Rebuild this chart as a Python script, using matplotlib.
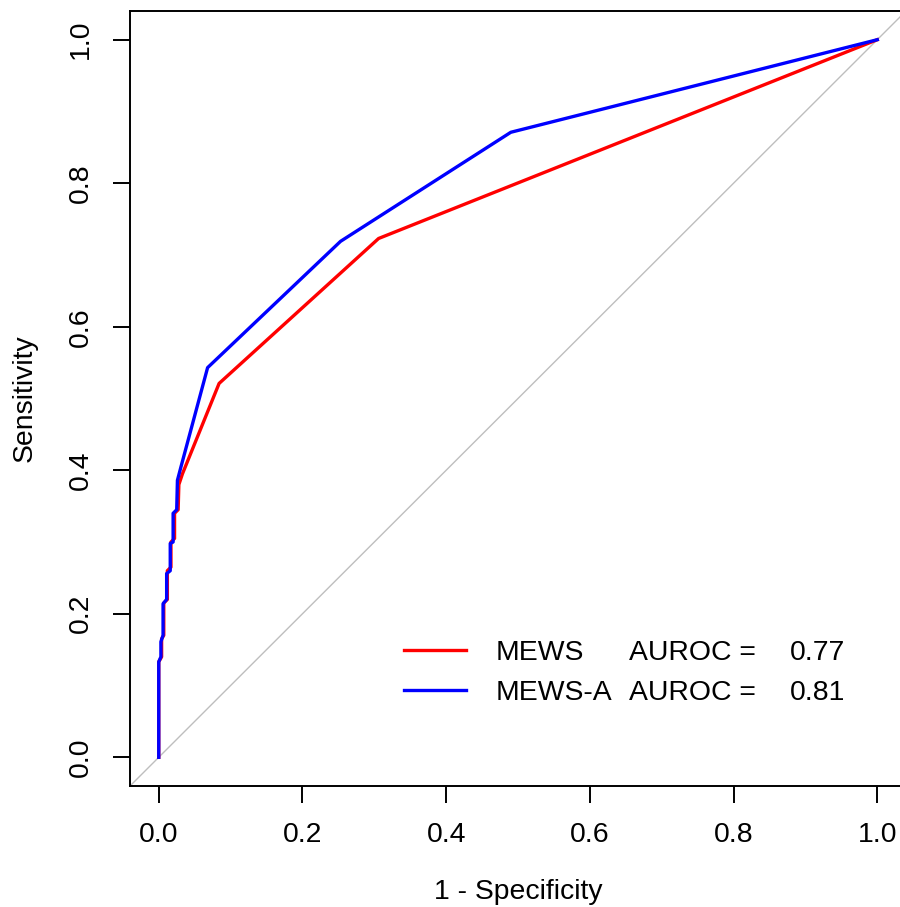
import matplotlib
matplotlib.use("Agg")
import matplotlib.pyplot as plt

plt.rcParams['font.family'] = ['Liberation Sans', 'DejaVu Sans']

# ROC curve points (1 - specificity, sensitivity)
mews_fpr = [0.0, 0.0, 0.004, 0.004, 0.007, 0.007, 0.012, 0.012, 0.017, 0.017,
            0.022, 0.022, 0.027, 0.028, 0.033, 0.084, 0.306, 1.0]
mews_tpr = [0.0, 0.133, 0.14, 0.165, 0.17, 0.215, 0.22, 0.26, 0.265, 0.30,
            0.305, 0.34, 0.345, 0.38, 0.395, 0.521, 0.723, 1.0]
mewsa_fpr = [0.0, 0.0, 0.003, 0.003, 0.006, 0.006, 0.011, 0.011, 0.016, 0.016,
             0.020, 0.020, 0.025, 0.026, 0.031, 0.068, 0.253, 0.49, 1.0]
mewsa_tpr = [0.0, 0.133, 0.14, 0.161, 0.17, 0.214, 0.22, 0.256, 0.26, 0.298,
             0.30, 0.340, 0.345, 0.386, 0.405, 0.543, 0.719, 0.871, 1.0]

series_names = ["MEWS", "MEWS-A"]
auroc_values = ["0.77", "0.81"]
series_colors = ["#FF0000", "#0000FF"]
ticks = [0.0, 0.2, 0.4, 0.6, 0.8, 1.0]
tick_labels = ["0.0", "0.2", "0.4", "0.6", "0.8", "1.0"]

FS = 20.4

fig = plt.figure(figsize=(9.0, 9.07), dpi=100)
ax = fig.add_axes([130/900, (907-786)/907, 776/900, 775/907])

ax.axline((0, 0), (1, 1), color="#BEBEBE", lw=1.0, zorder=1)
l1, = ax.plot(mews_fpr, mews_tpr, color=series_colors[0], lw=2.4, zorder=2,
              solid_joinstyle="round")
l2, = ax.plot(mewsa_fpr, mewsa_tpr, color=series_colors[1], lw=2.4, zorder=3,
              solid_joinstyle="round")

ax.set_xlim(-0.04, 1.04)
ax.set_ylim(-0.04, 1.04)
ax.set_xticks(ticks)
ax.set_xticklabels(tick_labels)
ax.set_yticks(ticks)
ax.set_yticklabels(tick_labels, rotation=90, va="center")
ax.tick_params(axis="both", labelsize=FS, length=12, width=1.4, direction="out")
ax.tick_params(axis="x", pad=14)
ax.tick_params(axis="y", pad=14)
for s in ax.spines.values():
    s.set_linewidth(1.4)

ax.set_xlabel("1 - Specificity", fontsize=FS, labelpad=22)
ax.set_ylabel("Sensitivity", fontsize=FS, labelpad=22)

leg = ax.legend([l1, l2], series_names, loc="center left",
                bbox_to_anchor=(0.341, 0.118), bbox_transform=ax.transData,
                frameon=False, fontsize=FS, handlelength=2.19,
                handletextpad=1.06, labelspacing=0.5, borderpad=0,
                borderaxespad=0)
for h in leg.get_lines():
    h.set_linewidth(2.4)

fig.canvas.draw()
for txt, val in zip(leg.get_texts(), auroc_values):
    ax.annotate("AUROC =", xy=(0.654, 0), xycoords=(ax.transData, txt),
                va="bottom", ha="left", fontsize=FS)
    ax.annotate(val, xy=(0.879, 0), xycoords=(ax.transData, txt),
                va="bottom", ha="left", fontsize=FS)

fig.savefig("out.png", dpi=100)
